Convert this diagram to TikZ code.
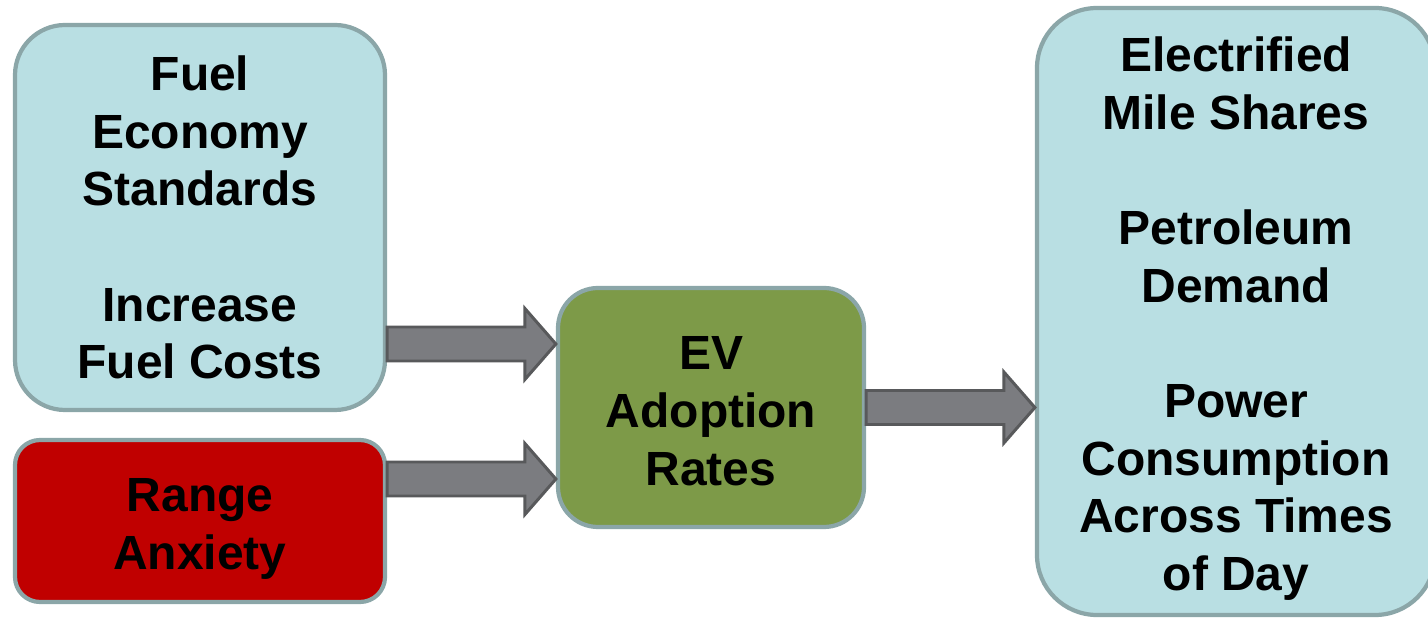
\documentclass[tikz,border=0pt]{standalone}
\usepackage{fontspec}
\setmainfont{Liberation Sans}
\usepackage{xcolor}
\usepackage{tikz}
\usetikzlibrary{calc}

\definecolor{boxblue}{HTML}{B9DFE3}
\definecolor{boxedge}{HTML}{8BA6A8}
\definecolor{anxred}{HTML}{C00000}
\definecolor{evgreen}{HTML}{7D9A48}
\definecolor{arrfill}{HTML}{7B7C80}
\definecolor{arredge}{HTML}{58595B}

\tikzset{
  roundbox/.style={draw=boxedge, line width=2.4pt, rounded corners=#1,
    align=center, inner sep=0pt,
    font=\fontsize{27.3}{32.8}\selectfont\bfseries},
  arrowbody/.style={draw=arredge, fill=arrfill, line width=1.7pt, line join=miter},
}

% Strut on the first line, pushes the text block down a little.
\newcommand{\toppad}[1]{\rule{0pt}{#1}}

% Fat arrow from the x of #1 to the point #2.
\newcommand{\fatarrow}[2]{%
  \draw[arrowbody] let \p1=(#1), \p2=(#2) in
    (\x1,\y2+0.34cm) -- (\x2-0.62cm,\y2+0.34cm) -- (\x2-0.62cm,\y2+0.71cm)
    -- (\x2,\y2) -- (\x2-0.62cm,\y2-0.71cm) -- (\x2-0.62cm,\y2-0.34cm)
    -- (\x1,\y2-0.34cm) -- cycle;}

\begin{document}
\begin{tikzpicture}
        \useasboundingbox (0,0) rectangle (28.56,12.36);

        % Drivers.
        \node[roundbox=1cm, fill=boxblue, minimum width=7.4cm, minimum height=7.7cm]
          (fuel) at (4.0,8.01) {Fuel\\Economy\\Standards\\[32.8pt]Increase\\Fuel Costs};
        \node[roundbox=0.5cm, fill=anxred, minimum width=7.4cm, minimum height=3.24cm]
          (range) at (4.0,1.94) {\toppad{28pt}Range\\Anxiety};

        % Adoption.
        \node[roundbox=0.8cm, fill=evgreen, minimum width=6.12cm, minimum height=4.78cm]
          (ev) at (14.22,4.21) {\toppad{23pt}EV\\Adoption\\Rates};

        % Outcomes.
        \node[roundbox=1.2cm, fill=boxblue, minimum width=7.96cm, minimum height=12.14cm]
          (result) at (24.72,6.13) {\toppad{28pt}Electrified\\Mile Shares\\[32.8pt]Petroleum\\Demand\\[32.8pt]Power\\Consumption\\Across Times\\of Day};

        % Arrows.
        \coordinate (in1) at ($(ev.west)+(0,1.27)$);
        \coordinate (in2) at ($(ev.west)+(0,-1.43)$);
        \coordinate (out1) at (result.west |- ev.east);
        \fatarrow{fuel.east}{in1}
        \fatarrow{range.east}{in2}
        \fatarrow{ev.east}{out1}
    \end{tikzpicture}
\end{document}
